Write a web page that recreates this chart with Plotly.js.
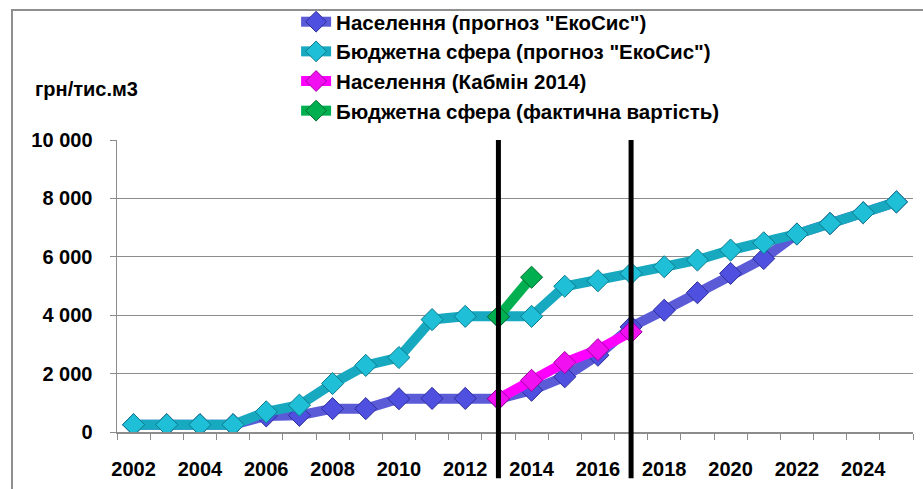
<!DOCTYPE html>
<html><head><meta charset="utf-8">
<script src="https://cdn.plot.ly/plotly-3.0.1.min.js"></script>
<style>
body{margin:0;padding:0;background:#fff;}
#wrap{position:relative;width:923px;height:489px;overflow:hidden;}
#chart{width:923px;height:489px;}
#frame{position:absolute;left:11px;top:9px;width:1000px;height:1000px;border:2px solid #8f8f8f;pointer-events:none;box-sizing:border-box;}
</style></head>
<body>
<div id="wrap"><div id="chart"></div><div id="frame"></div></div>
<script>
const years = [2002,2003,2004,2005,2006,2007,2008,2009,2010,2011,2012,2013,2014,2015,2016,2017,2018,2019,2020,2021,2022,2023,2024,2025];
const popEko = [250,250,250,250,550,570,800,800,1140,1150,1150,1140,1430,1890,2630,3600,4170,4770,5430,5940,6780,7140,7510,7880];
const budgEko = [250,250,250,250,690,920,1660,2280,2550,3850,3960,3950,3960,4990,5180,5430,5660,5890,6230,6480,6780,7140,7510,7880];
const kabYears = [2013,2014,2015,2016,2017];
const popKabmin = [1140,1770,2380,2820,3430];
const factYears = [2013,2014];
const budgFact = [3950,5300];
const seriesNames = ['Населення (прогноз "ЕкоСис")','Бюджетна сфера (прогноз "ЕкоСис")','Населення (Кабмін 2014)','Бюджетна сфера (фактична вартість)'];
const xTickVals = [2002,2004,2006,2008,2010,2012,2014,2016,2018,2020,2022,2024];
const yTickVals = [0,2000,4000,6000,8000,10000];
const yTickText = ['0','2 000','4 000','6 000','8 000','10 000'];
const markerLines = [2013,2017];

const FONT = 'Liberation Sans, Arial, sans-serif';
function tr(x,y,name,lc,mc,oc,grp){
  return {x:x,y:y,name:name,type:'scatter',mode:'lines+markers',legendgroup:grp,
    line:{color:lc,width:10},
    marker:{symbol:'diamond',size:17,color:mc,line:{color:oc,width:1}}};
}
const data = [
  tr(years,popEko,seriesNames[0],'#5b5bd8','#4f4fe0','#2e2e9a','a'),
  tr(years,budgEko,seriesNames[1],'#17a9bf','#1fbfd8','#0d7b8c','b'),
  tr(kabYears,popKabmin,seriesNames[2],'#ff00ff','#f010f0','#a000a0','c'),
  tr(factYears,budgFact,seriesNames[3],'#00b050','#00b050','#006a30','d')
];
const shapes = markerLines.map(v=>({type:'line',xref:'x',yref:'paper',x0:v,x1:v,y0:-0.158,y1:1.0,line:{color:'#000',width:5},layer:'above'}));
const layout = {
  width:923,height:489,
  margin:{l:117,r:10,t:140,b:57,autoexpand:false},
  paper_bgcolor:'#fff',plot_bgcolor:'#fff',
  font:{family:FONT,size:20,color:'#000'},
  showlegend:true,
  legend:{x:0.225,xanchor:'left',y:1.473,yanchor:'top',traceorder:'grouped',tracegroupgap:0,
    font:{family:FONT,size:20.5,color:'#000',weight:'bold'},bgcolor:'rgba(0,0,0,0)'},
  xaxis:{range:[2001.5,2025.5],tickvals:xTickVals,ticktext:xTickVals.map(String),ticks:'',showgrid:false,zeroline:false,
    showline:true,linecolor:'#8c8c8c',linewidth:1.5,ticklabelstandoff:18,
    tickfont:{family:FONT,size:20,weight:'bold'},
    minor:{tick0:2001.5,dtick:1,ticks:'outside',ticklen:6,tickcolor:'#8c8c8c',showgrid:false}},
  yaxis:{range:[0,10000],tickvals:yTickVals,ticktext:yTickText,ticks:'outside',ticklen:6,tickcolor:'#8c8c8c',
    showgrid:true,gridcolor:'#8c8c8c',gridwidth:1.2,zeroline:false,showline:true,linecolor:'#8c8c8c',linewidth:1.5,
    tickfont:{family:FONT,size:20,weight:'bold'},ticklabelstandoff:13},
  annotations:[{text:'грн/тис.м3',xref:'paper',yref:'paper',x:-0.105,y:1.175,xanchor:'left',yanchor:'middle',showarrow:false,
    font:{family:FONT,size:20,weight:'bold',color:'#000'}}],
  shapes:shapes
};
Plotly.newPlot('chart',data,layout,{displayModeBar:false,staticPlot:true});
</script>
</body></html>
